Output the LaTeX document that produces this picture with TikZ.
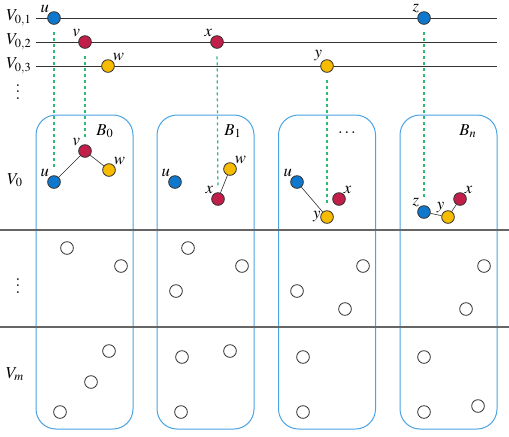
\documentclass[tikz,border=0pt]{standalone}
\usepackage{mathptmx}
\definecolor{nblue}{HTML}{0F78CC}
\definecolor{nred}{HTML}{C21E4A}
\definecolor{nyellow}{HTML}{F7BC00}
\definecolor{boxblue}{HTML}{4AA3E3}
\definecolor{dgreen}{HTML}{2DBB74}
\begin{document}
\begin{tikzpicture}[x=0.6pt,y=-0.6pt,
  vtx/.style={circle,draw=black!80,line width=0.5pt,minimum size=7.6pt,inner sep=0pt},
  bv/.style={vtx,fill=nblue},
  rv/.style={vtx,fill=nred},
  yv/.style={vtx,fill=nyellow},
  ev/.style={vtx,fill=white},
  bag/.style={draw=boxblue,line width=0.6pt,rounded corners=12pt,minimum width=58.2pt,minimum height=188.4pt,inner sep=0pt},
  level/.style={draw=black!80,line width=0.5pt},
  sep/.style={draw=black!60,line width=0.7pt},
  proj/.style={draw=dgreen,dash pattern=on 1.8pt off 1.8pt,line width=0.75pt,shorten <=4.5pt,shorten >=3.5pt},
  edge/.style={draw=black!85,line width=0.35pt},
  every label/.style={inner sep=0.6pt},
  label distance=-1pt,
  txt/.style={inner sep=0pt}]
\useasboundingbox (0,0) rectangle (509,436);
% bags
\node[bag] (B0) at (84.5,272) {};
\node[bag] (B1) at (205.5,272) {};
\node[bag] (B2) at (327,272) {};
\node[bag] (B3) at (448.5,272) {};
% separators
\coordinate (s1l) at (0,230); \coordinate (s1r) at (509,230);
\coordinate (s2l) at (0,327); \coordinate (s2r) at (509,327);
\draw[sep] (s1l) -- (s1r);
\draw[sep] (s2l) -- (s2r);
% top level lines
\coordinate (l1a) at (36,18); \coordinate (l1b) at (497,18);
\coordinate (l2a) at (36,42); \coordinate (l2b) at (497,42);
\coordinate (l3a) at (36,66); \coordinate (l3b) at (497,66);
\draw[level] (l1a) -- (l1b);
\draw[level] (l2a) -- (l2b);
\draw[level] (l3a) -- (l3b);
% row labels
\node[txt] (r1) at (19,18) {$V_{0,1}$};
\node[txt] (r2) at (19,42) {$V_{0,2}$};
\node[txt] (r3) at (19,66) {$V_{0,3}$};
\node[txt] (r4) at (18,87) {$\vdots$};
\node[txt] (rV0) at (15,180) {$V_0$};
\node[txt] (rdots) at (18,281) {$\vdots$};
\node[txt] (rVm) at (15,374) {$V_m$};
% bag labels
\node[txt] (lb0) at (105,131) {$B_0$};
\node[txt] (lb1) at (233,131) {$B_1$};
\node[txt] (lb2) at (347,133) {$\ldots$};
\node[txt] (lb3) at (468,131) {$B_n$};
% top vertices
\node[bv,label=above left:$u$] (tu) at (54,18) {};
\node[rv,label=above left:$v$] (tv) at (85,42) {};
\node[yv,label=above right:$w$] (tw) at (108,66) {};
\node[rv,label=above left:$x$] (tx) at (217,42) {};
\node[yv,label=above left:$y$] (ty) at (327,66) {};
\node[bv,label=above left:$z$] (tz) at (424,18) {};
% B0
\node[bv,label=above left:$u$] (au) at (54,182) {};
\node[rv,label=above left:$v$] (av) at (85,151) {};
\node[yv,label=above right:$w$] (aw) at (109,170) {};
% B1
\node[bv,label=above left:$u$] (bu) at (175,182) {};
\node[yv,label=above right:$w$] (bw) at (230,169) {};
\node[rv,label=above left:$x$] (bx) at (218,199) {};
% B2
\node[bv,label=above left:$u$] (cu) at (297,182) {};
\node[rv,label=above right:$x$] (cx) at (339,199) {};
\node[yv,label=left:$y$] (cy) at (327,217) {};
% Bn
\node[bv,label=above left:$z$] (dz) at (424,212) {};
\node[yv,label={[label distance=-2pt]above left:$y$}] (dy) at (448,217) {};
\node[rv,label=above right:$x$] (dx) at (460,199) {};
% edges
\draw[edge] (au) -- (av) -- (aw);
\draw[edge] (bx) -- (bw);
\draw[edge] (cu) -- (cy);
\draw[edge] (dz) -- (dy) -- (dx);
% projections
\draw[proj] (tu) -- (au);
\draw[proj] (tv) -- (av);
\draw[proj] (tx) -- (bx);
\draw[proj] (ty) -- (cy);
\draw[proj] (tz) -- (dz);
% empty vertices, middle row
\node[ev] (e1) at (67,248) {};
\node[ev] (e2) at (121,266) {};
\node[ev] (e3) at (188,248) {};
\node[ev] (e4) at (242,266) {};
\node[ev] (e5) at (176,291) {};
\node[ev] (e6) at (363,266) {};
\node[ev] (e7) at (297,291) {};
\node[ev] (e8) at (345,309) {};
\node[ev] (e9) at (484,266) {};
\node[ev] (e10) at (466,309) {};
% empty vertices, bottom row
\node[ev] (f1) at (109,351) {};
\node[ev] (f2) at (91,382) {};
\node[ev] (f3) at (60,412) {};
\node[ev] (f4) at (182,357) {};
\node[ev] (f5) at (230,351) {};
\node[ev] (f6) at (181,412) {};
\node[ev] (f7) at (303,357) {};
\node[ev] (f8) at (303,412) {};
\node[ev] (f9) at (424,357) {};
\node[ev] (f10) at (424,412) {};
\node[ev] (f11) at (478,406) {};
\end{tikzpicture}
\end{document}
